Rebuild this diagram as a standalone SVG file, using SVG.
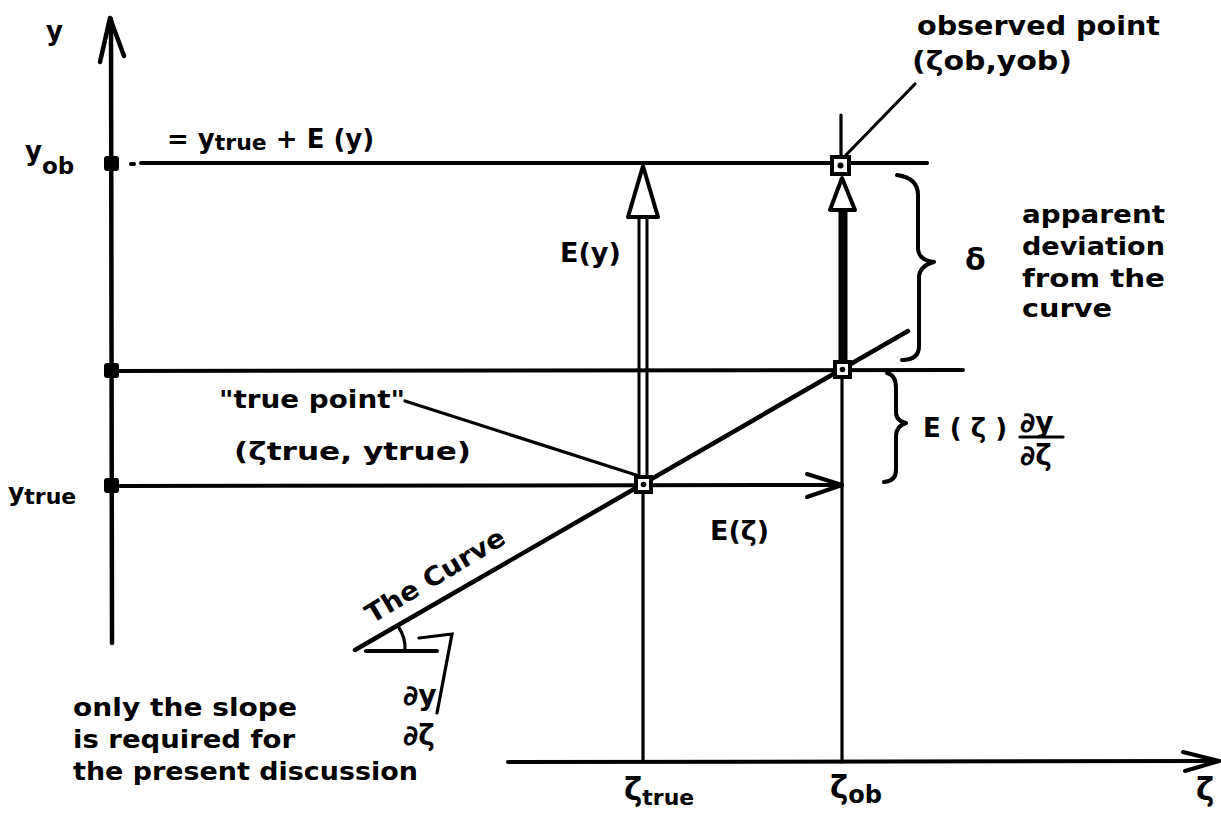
<svg xmlns="http://www.w3.org/2000/svg" width="1221" height="827" viewBox="0 0 1221 827">
<defs>
<style>
.ln{stroke:#000;stroke-width:4;fill:none;stroke-linecap:round;stroke-linejoin:round}
.thin{stroke:#000;stroke-width:3.2;fill:none;stroke-linecap:round}
.t{font-family:"DejaVu Sans","Liberation Sans",sans-serif;font-weight:bold;fill:#000}
.sq{fill:#fff;stroke:#000;stroke-width:4}
.dot{fill:#000}
.hollow{fill:#fff;stroke:#000;stroke-width:4;stroke-linejoin:round}
</style>
</defs>
<rect width="1221" height="827" fill="#fff"/>

<g id="connectors">
  <!-- y axis -->
  <line class="ln" x1="111" y1="19" x2="112" y2="643" style="stroke-width:4.5"/>
  <polyline class="ln" points="100,62 110,18 124,56" style="stroke-width:4.5"/>
  <!-- x axis -->
  <line class="ln" x1="508" y1="762" x2="1219" y2="761"/>
  <polyline class="ln" points="1183,752 1219,761 1185,771"/>
  <!-- horizontal lines -->
  <line class="ln" x1="131" y1="164" x2="134" y2="164"/>
  <line class="ln" x1="141" y1="163" x2="927" y2="163"/>
  <line class="ln" x1="111" y1="371" x2="963" y2="370"/>
  <line class="ln" x1="120" y1="486" x2="842" y2="485"/>
  <polyline class="ln" points="807,474 842,485 807,497"/>
  <!-- verticals -->
  <line class="thin" x1="643" y1="484" x2="643" y2="762"/>
  <line class="thin" x1="842" y1="369" x2="842" y2="762"/>
  <line class="thin" x1="841" y1="115" x2="841" y2="157"/>
  <!-- E(y) double shaft -->
  <line x1="639" y1="217" x2="639" y2="478" stroke="#000" stroke-width="3"/>
  <line x1="647" y1="217" x2="647" y2="478" stroke="#000" stroke-width="3"/>
  <polygon class="hollow" points="643,166 628,217 658,217"/>
  <!-- thick shaft at z_ob -->
  <line x1="843" y1="210" x2="843" y2="362" stroke="#000" stroke-width="9"/>
  <polygon class="hollow" points="842,178 830,210 855,210"/>
  <!-- the curve -->
  <line class="ln" x1="355" y1="650" x2="908" y2="331" style="stroke-width:4.5"/>
  <!-- angle mark -->
  <line class="ln" x1="366" y1="651" x2="437" y2="651"/>
  <path class="thin" d="M398,626 Q406,638 405,651"/>
  <polyline class="thin" points="419,638 452,634 437,713"/>
  <!-- leaders -->
  <line class="thin" x1="846" y1="155" x2="915" y2="84"/>
  <line class="thin" x1="405" y1="401" x2="636" y2="475"/>
  <!-- braces -->
  <path class="ln" d="M897,175 Q918,178 918,195 L918,248 Q918,260 934,262 Q919,266 919,278 L919,346 Q919,360 902,360"/>
  <path class="ln" d="M887,373 Q896,375 896,388 L896,412 Q896,421 906,423 Q896,426 896,436 L896,470 Q896,481 884,482"/>
</g>

<g id="points">
  <rect id="obs-point" class="sq" x="832" y="157" width="17" height="17"/>
  <circle class="dot" cx="840.5" cy="165.5" r="3"/>
  <rect id="curve-point" class="sq" x="835" y="362" width="15" height="15"/>
  <circle class="dot" cx="842.5" cy="369.5" r="2.8"/>
  <rect id="true-point" class="sq" x="636" y="477" width="15" height="15"/>
  <circle class="dot" cx="643.5" cy="484.5" r="2.8"/>
  <rect x="104" y="156" width="15" height="15" rx="3" class="dot"/>
  <rect x="104" y="363" width="15" height="15" rx="3" class="dot"/>
  <rect x="104" y="478" width="15" height="15" rx="3" class="dot"/>
</g>

<g id="labels">
  <text class="t" x="46" y="40" font-size="26">y</text>
  <g id="y-ob-label"><text class="t" x="25" y="160" font-size="26">y<tspan font-size="23" dy="14">ob</tspan></text></g>
  <g id="y-true-label"><text class="t" x="8" y="501" font-size="25">y<tspan font-size="22" dy="3">true</tspan></text></g>
  <text class="t" x="167" y="148" font-size="26">= y<tspan font-size="22" dy="2">true</tspan><tspan dy="-2"> + E (y)</tspan></text>

  <g id="observed-label">
    <text class="t" x="917" y="35" font-size="26" textLength="243" lengthAdjust="spacingAndGlyphs">observed point</text>
    <text class="t" x="912" y="70" font-size="26" textLength="160" lengthAdjust="spacingAndGlyphs">(ζob,yob)</text>
  </g>

  <text class="t" x="560" y="262" font-size="27">E(y)</text>
  <text class="t" x="965" y="270" font-size="30">δ</text>
  <g id="deviation-label">
    <text class="t" x="1022" y="223" font-size="25" textLength="143" lengthAdjust="spacingAndGlyphs">apparent</text>
    <text class="t" x="1022" y="255" font-size="25" textLength="143" lengthAdjust="spacingAndGlyphs">deviation</text>
    <text class="t" x="1022" y="287" font-size="25" textLength="143" lengthAdjust="spacingAndGlyphs">from the</text>
    <text class="t" x="1022" y="317" font-size="25" textLength="90" lengthAdjust="spacingAndGlyphs">curve</text>
  </g>

  <g id="slope-term">
    <text class="t" x="923" y="437" font-size="26">E ( ζ )</text>
    <text class="t" x="1020" y="432" font-size="28">∂y</text>
    <line class="thin" x1="1020" y1="437" x2="1063" y2="437"/>
    <text class="t" x="1020" y="465" font-size="28">∂ζ</text>
  </g>

  <g id="true-label">
    <text class="t" x="219" y="408" font-size="25" textLength="186" lengthAdjust="spacingAndGlyphs">"true point"</text>
    <text class="t" x="234" y="460" font-size="25" textLength="237" lengthAdjust="spacingAndGlyphs">(ζtrue, ytrue)</text>
  </g>

  <text class="t" x="710" y="540" font-size="27">E(ζ)</text>

  <text class="t" font-size="26" transform="translate(372,624) rotate(-31)" textLength="158" lengthAdjust="spacingAndGlyphs">The Curve</text>

  <g id="slope-fraction">
    <text class="t" x="403" y="705" font-size="28">∂y</text>
    <text class="t" x="403" y="745" font-size="28">∂ζ</text>
  </g>

  <g id="note">
    <text class="t" x="73" y="716" font-size="25" textLength="224" lengthAdjust="spacingAndGlyphs">only the slope</text>
    <text class="t" x="73" y="748" font-size="25" textLength="222" lengthAdjust="spacingAndGlyphs">is required for</text>
    <text class="t" x="73" y="780" font-size="25" textLength="345" lengthAdjust="spacingAndGlyphs">the present discussion</text>
  </g>

  <text class="t" x="624" y="800" font-size="31">ζ<tspan font-size="22" dy="5">true</tspan></text>
  <text class="t" x="830" y="798" font-size="31">ζ<tspan font-size="24" dy="5">ob</tspan></text>
  <text class="t" x="1196" y="800" font-size="31">ζ</text>
</g>
</svg>
